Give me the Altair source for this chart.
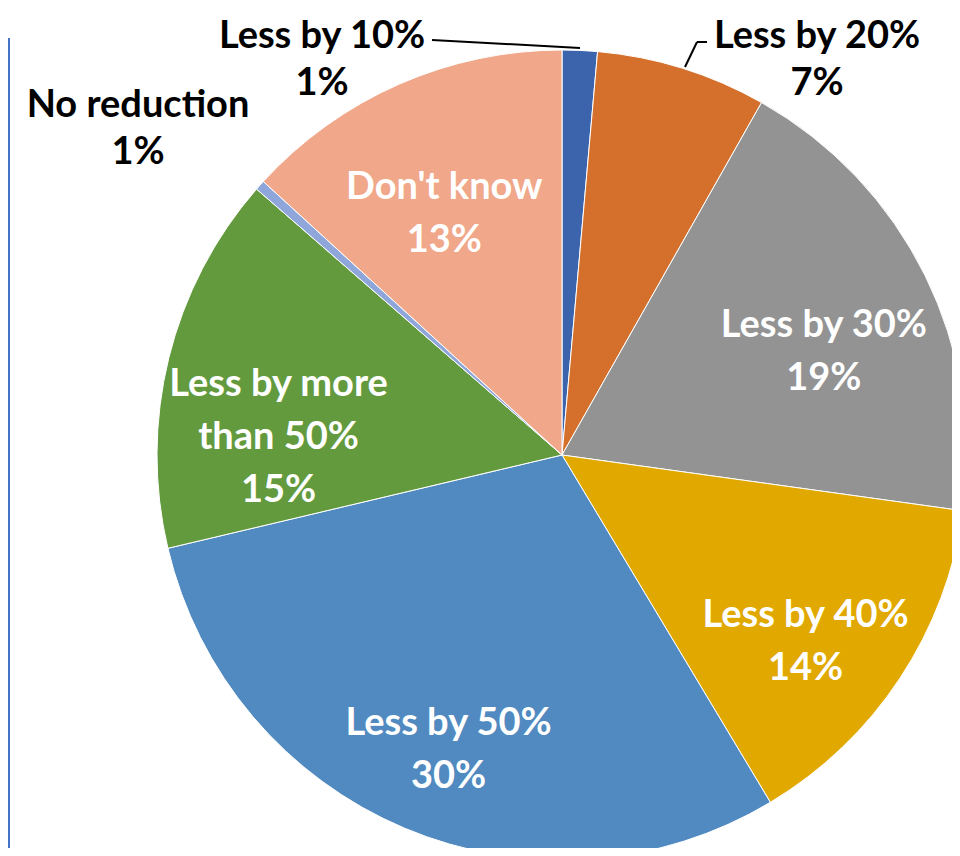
import altair as alt
import pandas as pd

# ---- data ----
categories = ["Less by 10%", "Less by 20%", "Less by 30%", "Less by 40%",
              "Less by 50%", "Less by more than 50%", "No reduction", "Don't know"]
values = [1.4, 6.8, 19.0, 14.2, 29.9, 15.1, 0.4, 13.2]
pct_labels = ["1%", "7%", "19%", "14%", "30%", "15%", "1%", "13%"]
wrapped_names = ["Less by 10%", "Less by 20%", "Less by 30%", "Less by 40%",
                 "Less by 50%", "Less by more\nthan 50%", "No reduction", "Don't know"]
label_inside = [False, False, True, True, True, True, False, True]
colors = ["#3B64AD", "#D4702C", "#939393", "#E1A800",
          "#508AC0", "#639A3E", "#8FA6DA", "#F0A78A"]

df = pd.DataFrame({
    "category": categories,
    "value": values,
    "order": list(range(len(categories))),
    "label": [f"{n}\n{p}" for n, p in zip(wrapped_names, pct_labels)],
})
df["inside_label"] = [l if ins else "" for l, ins in zip(df["label"], label_inside)]

CX, CY, R = 554, 447, 405
FONT = "Lato"
FS = 38

color_scale = alt.Scale(domain=categories, range=colors)

base = alt.Chart(df).encode(
    theta=alt.Theta("value:Q", stack=True),
    order=alt.Order("order:Q"),
    x=alt.value(CX),
    y=alt.value(CY),
)

pie = base.mark_arc(radius=R, stroke="white", strokeWidth=1).encode(
    color=alt.Color("category:N", scale=color_scale, legend=None)
)

inside_text = base.mark_text(
    radius=292, font=FONT, fontSize=FS, fontWeight="bold", color="white",
    lineBreak="\n", lineHeight=53, align="center", baseline="middle",
).encode(text="inside_label:N")

# outside (manually placed) labels with leader lines
outside = df[[not i for i in label_inside]].copy()
outside["lx"] = [314, 809, 130]
outside["ly"] = [10, 10, 79]
outside_text = alt.Chart(outside).mark_text(
    font=FONT, fontSize=FS, fontWeight="bold", color="black",
    lineBreak="\n", lineHeight=47, align="center", baseline="top",
).encode(
    x=alt.X("lx:Q", scale=None),
    y=alt.Y("ly:Q", scale=None),
    text="label:N",
)

leaders = pd.DataFrame({
    "x": [424, 699, 689],
    "y": [32, 34, 34],
    "x2": [572, 689, 677],
    "y2": [40, 34, 59],
})
leader_rules = alt.Chart(leaders).mark_rule(color="black", strokeWidth=2).encode(
    x=alt.X("x:Q", scale=None), y=alt.Y("y:Q", scale=None),
    x2="x2:Q", y2="y2:Q",
)

edge = alt.Chart(pd.DataFrame({"a": [0]})).mark_rule(
    color="#4472C4", strokeWidth=2
).encode(x=alt.value(1), y=alt.value(30), y2=alt.value(840))

chart = alt.layer(pie, inside_text, outside_text, leader_rules, edge).properties(
    width=944, height=840, padding=0, autosize=alt.AutoSizeParams(type="none")
).configure_view(stroke=None)

chart.save("out.html", embed_options={"renderer": "svg", "actions": False})
